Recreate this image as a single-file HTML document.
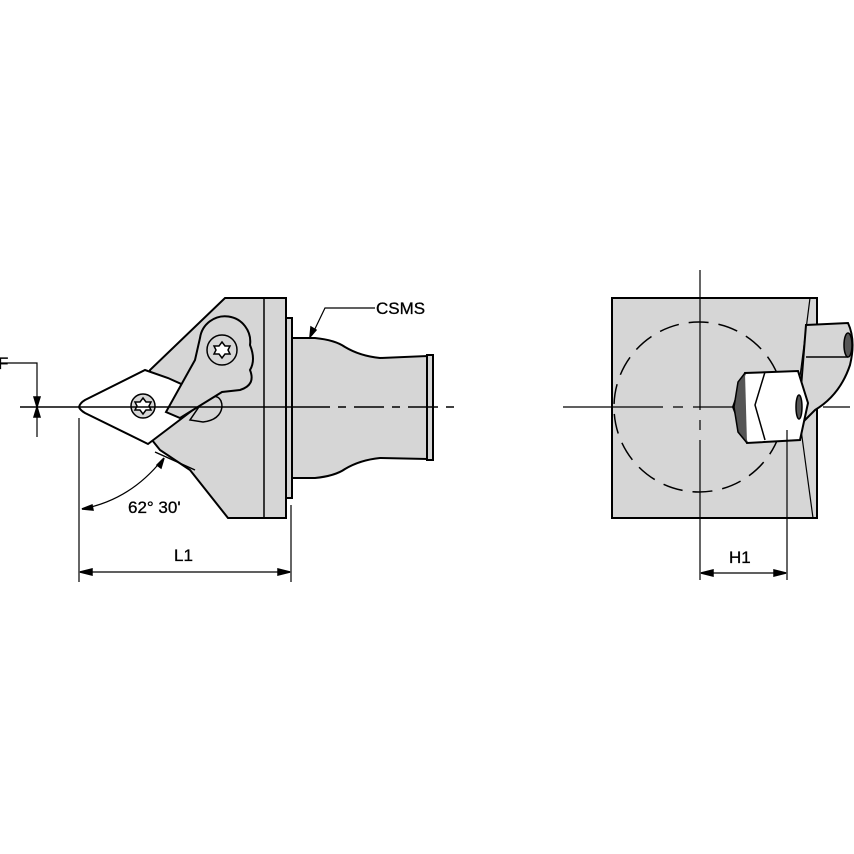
<!DOCTYPE html>
<html><head><style>body{margin:0;background:#fff}svg{display:block}text{font-family:"Liberation Sans",sans-serif;font-size:17px;fill:#000;stroke:#000;stroke-width:0.3}</style></head>
<body>
<svg width="854" height="854" viewBox="0 0 854 854" xmlns="http://www.w3.org/2000/svg" stroke="#000" stroke-width="1.5" fill="none">
<!-- LEFT VIEW -->
<path d="M292 338 L315 338 Q335 340 345 347 Q360 356 380 358 L427 356 L427 459 L380 458 Q360 460 345 469 Q335 476 315 478 L292 478 Z" fill="#d6d6d6" stroke-width="2"/>
<rect x="427" y="355" width="6" height="105" fill="#d6d6d6" stroke-width="2"/>
<rect x="286" y="318" width="6" height="180" fill="#d6d6d6" stroke-width="2"/>
<path d="M225 298 L286 298 L286 518 L228 518 L190 470 L160 450 L152 440 L150 370 Z" fill="#d6d6d6" stroke-width="2"/>
<line x1="264" y1="298" x2="264" y2="518"/>
<!-- insert -->
<path d="M79 407 Q80 403 85 400 L145 370 L168 378 L210 397 L148 444 L85 413 Q80 410 79 407 Z" fill="#fff" stroke-width="2"/>
<circle cx="143" cy="406" r="12" fill="#d6d6d6"/>
<path d="M143 398 l3 4 5 0 -2 4 2 4 -5 0 -3 4 -3-4 -5 0 2-4 -2-4 5 0z" fill="#fff"/>
<!-- clamp -->
<path d="M205 398 Q222 392 222 407 Q220 420 203 422 L190 420 Z" fill="#d6d6d6" stroke-width="1.5"/>
<path d="M200 338 A25 25 0 0 1 250 345 Q256 360 250 370 Q256 385 240 390 L222 392 L180 418 L166 412 L195 360 Z" fill="#d6d6d6" stroke-width="2"/>
<circle cx="222" cy="350" r="15" fill="#d6d6d6"/>
<path d="M222 342 l3 4 5 0 -2 4 2 4 -5 0 -3 4 -3-4 -5 0 2-4 -2-4 5 0z" fill="#fff"/>
<path d="M155 452 L195 470"/>
<!-- centerline -->
<line x1="20" y1="407" x2="300" y2="407"/>
<path d="M300 407 H460" stroke-dasharray="30 8 8 8"/>
<!-- F dim -->
<polyline points="0,363 37,363 37,437" stroke-width="1.2"/>
<path d="M37 407 l-3 -10 h6z M37 407 l-3 10 h6z" fill="#000"/>
<text x="-2" y="369">F</text>
<!-- CSMS -->
<polyline points="375,308 325,308 312,335" stroke-width="1.2"/>
<path d="M310 337 l1 -10 5 3z" fill="#000"/>
<text x="376" y="314">CSMS</text>
<!-- angle -->
<line x1="79" y1="418" x2="79" y2="582" stroke-width="1.2"/>
<path d="M82 509 Q130 500 162 460" stroke-width="1.2"/>
<path d="M82 509 l10 -4 1 5z M164 458 l-3 10 -4 -3z" fill="#000"/>
<text x="128" y="513">62° 30'</text>
<!-- L1 -->
<line x1="291" y1="505" x2="291" y2="582" stroke-width="1.2"/>
<line x1="80" y1="572" x2="290" y2="572" stroke-width="1.2"/>
<path d="M80 572 l12 -3 v6z M290 572 l-12 -3 v6z" fill="#000"/>
<text x="174" y="561">L1</text>

<!-- RIGHT VIEW -->
<path d="M612 298 L817 298 L817 518 L612 518 Z" fill="#d6d6d6" stroke-width="2"/>
<path d="M810 298 L797 400 L813 518" stroke-width="1.2"/>
<circle cx="699" cy="407" r="85" stroke-dasharray="20 10"/>
<line x1="700" y1="270" x2="700" y2="580" stroke-width="1.2" stroke-dasharray="140 10 10 10"/>
<path d="M563 407 H850" stroke-width="1.2" stroke-dasharray="100 10 10 10"/>
<path d="M806 325 L848 323 Q856 340 850 365 Q840 395 815 410 L805 420 L800 400 L806 325 Z" fill="#d6d6d6" stroke-width="2"/>
<ellipse cx="848" cy="345" rx="4" ry="12" fill="#555"/>
<line x1="806" y1="357" x2="848" y2="357"/>
<path d="M733 407 L745 373 L798 371 L808 403 L800 440 L747 443 Z" fill="#fff" stroke-width="2"/>
<path d="M745 373 L738 382 L734 407 L738 432 L747 443" fill="#555"/>
<path d="M765 372 L755 405 L765 440"/>
<ellipse cx="799" cy="407" rx="3" ry="12" fill="#555"/>
<!-- H1 -->
<line x1="787" y1="430" x2="787" y2="580" stroke-width="1.2"/>
<line x1="701" y1="573" x2="786" y2="573" stroke-width="1.2"/>
<path d="M701 573 l12 -3 v6z M786 573 l-12 -3 v6z" fill="#000"/>
<text x="729" y="563">H1</text>
</svg>
</body></html>
